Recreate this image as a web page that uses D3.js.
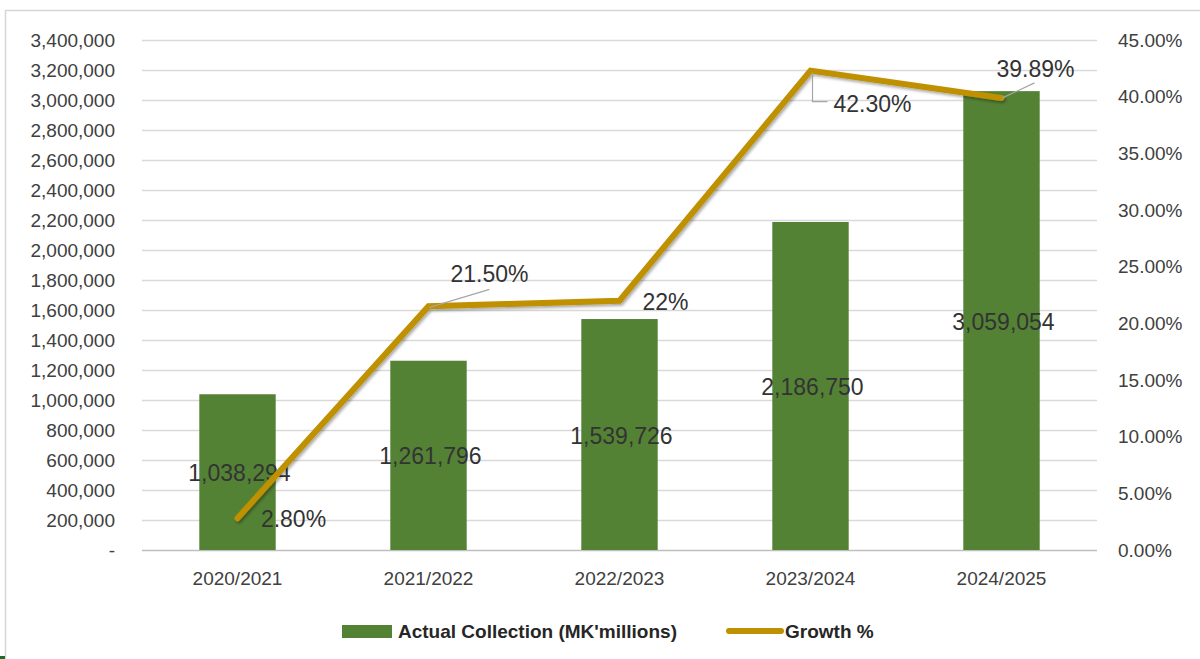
<!DOCTYPE html>
<html>
<head>
<meta charset="utf-8">
<script src="https://cdn.jsdelivr.net/npm/d3@7"></script>
<style>
  html, body { margin: 0; padding: 0; background: #fff; }
  svg { display: block; font-family: "Liberation Sans", Arial, sans-serif; }
</style>
</head>
<body>
<svg id="chart" width="1200" height="659"></svg>
<script>
// Revenue collection per fiscal year with year-on-year growth
const categories = ["2020/2021", "2021/2022", "2022/2023", "2023/2024", "2024/2025"];
const collection = [1038294, 1261796, 1539726, 2186750, 3059054];
const growth = [2.80, 21.50, 22, 42.30, 39.89];
const growthLabels = ["2.80%", "21.50%", "22%", "42.30%", "39.89%"];
const leftTicks = [0, 200000, 400000, 600000, 800000, 1000000, 1200000, 1400000, 1600000,
  1800000, 2000000, 2200000, 2400000, 2600000, 2800000, 3000000, 3200000, 3400000];
const rightTicks = [0, 5, 10, 15, 20, 25, 30, 35, 40, 45];
const seriesNames = ["Actual Collection (MK'millions)", "Growth %"];

const BAR = "#548235", LINE = "#BF9000", TEXT = "#404040", GRID = "#d9d9d9";

const svg = d3.select("#chart");
const plot = { left: 142, right: 1097, top: 40, bottom: 550 };

// chart frame
svg.append("rect").attr("x", 5.5).attr("y", 10.5).attr("width", 1300).attr("height", 700)
  .attr("fill", "none").attr("stroke", "#d6d6d6").attr("stroke-width", 1.5);
svg.append("rect").attr("x", 0).attr("y", 656).attr("width", 5).attr("height", 3).attr("fill", "#1f6b2f");

const defs = svg.append("defs");
const f = defs.append("filter").attr("id", "shadow").attr("x", "-10%").attr("y", "-10%")
  .attr("width", "120%").attr("height", "130%");
f.append("feDropShadow").attr("dx", 1.5).attr("dy", 2).attr("stdDeviation", 1.5)
  .attr("flood-color", "#000").attr("flood-opacity", 0.35);

const x = d3.scaleBand().domain(categories).range([plot.left, plot.right])
  .paddingInner(0.6).paddingOuter(0.3);
const yL = d3.scaleLinear().domain([0, 3400000]).range([plot.bottom, plot.top]);
const yR = d3.scaleLinear().domain([0, 45]).range([plot.bottom, plot.top]);

// gridlines
svg.append("g").selectAll("line").data(leftTicks).join("line")
  .attr("x1", plot.left).attr("x2", plot.right)
  .attr("y1", d => Math.round(yL(d)) + 0.5).attr("y2", d => Math.round(yL(d)) + 0.5)
  .attr("stroke", d => d === 0 ? "#bfbfbf" : GRID).attr("stroke-width", 1.3);

// left axis
const fmt = d3.format(",");
const gL = svg.append("g").attr("transform", `translate(${plot.left},0)`)
  .call(d3.axisLeft(yL).tickValues(leftTicks).tickSize(0).tickPadding(27)
    .tickFormat(d => d === 0 ? "-" : fmt(d)));
gL.select(".domain").remove();
gL.selectAll("text").attr("font-size", 19).attr("fill", TEXT).attr("font-family", null);

// right axis
const gR = svg.append("g").attr("transform", `translate(${plot.right},0)`)
  .call(d3.axisRight(yR).tickValues(rightTicks).tickSize(0).tickPadding(21)
    .tickFormat(d => d.toFixed(2) + "%"));
gR.select(".domain").remove();
gR.selectAll("text").attr("font-size", 19).attr("fill", TEXT).attr("font-family", null);

// category axis
const gX = svg.append("g").attr("transform", `translate(0,${plot.bottom})`)
  .call(d3.axisBottom(x).tickSize(0).tickPadding(21.5));
gX.select(".domain").remove();
gX.selectAll("text").attr("font-size", 19).attr("fill", TEXT).attr("font-family", null);

// bars
const rows = categories.map((c, i) => ({ c, v: collection[i], g: growth[i], gl: growthLabels[i] }));
svg.append("g").selectAll("rect").data(rows).join("rect")
  .attr("x", d => x(d.c)).attr("width", x.bandwidth())
  .attr("y", d => yL(d.v)).attr("height", d => yL(0) - yL(d.v))
  .attr("fill", BAR);

// bar value labels, centred in each bar
svg.append("g").selectAll("text").data(rows).join("text")
  .attr("x", d => x(d.c) + x.bandwidth() / 2 + 2)
  .attr("y", d => (yL(d.v) + yL(0)) / 2 + 9)
  .attr("text-anchor", "middle").attr("font-size", 23).attr("fill", "#333")
  .text(d => fmt(d.v));

// growth line
const cx = d => x(d.c) + x.bandwidth() / 2;
const line = d3.line().x(cx).y(d => yR(d.g));
svg.append("path").datum(rows).attr("d", line)
  .attr("fill", "none").attr("stroke", LINE).attr("stroke-width", 6)
  .attr("stroke-linecap", "round").attr("stroke-linejoin", "miter")
  .attr("filter", "url(#shadow)");

// growth labels: offsets of the label (centre x, baseline) from the point, plus leader lines
const labelOffsets = [[56, 9], [61, -24], [46, 9], [62, 41], [34, -21]];
const leaders = [null, [[1, 1], [61, -17]], null, [[2, 2], [2, 31], [17, 31]], [[1, 0], [33, -15]]];

const gl = svg.append("g");
rows.forEach((d, i) => {
  const px = cx(d), py = yR(d.g);
  if (leaders[i]) {
    gl.append("path")
      .attr("d", d3.line()(leaders[i].map(p => [px + p[0], py + p[1]])))
      .attr("fill", "none").attr("stroke", "#a6a6a6").attr("stroke-width", 1.2);
  }
  gl.append("text")
    .attr("x", px + labelOffsets[i][0]).attr("y", py + labelOffsets[i][1])
    .attr("text-anchor", "middle").attr("font-size", 23).attr("fill", "#333")
    .text(d.gl);
});

// legend
const lg = svg.append("g").attr("font-size", 19).attr("font-weight", "bold").attr("fill", "#262626");
lg.append("rect").attr("x", 342).attr("y", 625).attr("width", 50).attr("height", 13).attr("fill", BAR);
lg.append("text").attr("x", 398).attr("y", 638).text(seriesNames[0]);
lg.append("line").attr("x1", 729).attr("x2", 781).attr("y1", 631).attr("y2", 631)
  .attr("stroke", LINE).attr("stroke-width", 6).attr("stroke-linecap", "round");
lg.append("text").attr("x", 785).attr("y", 638).text(seriesNames[1]);
</script>
</body>
</html>
